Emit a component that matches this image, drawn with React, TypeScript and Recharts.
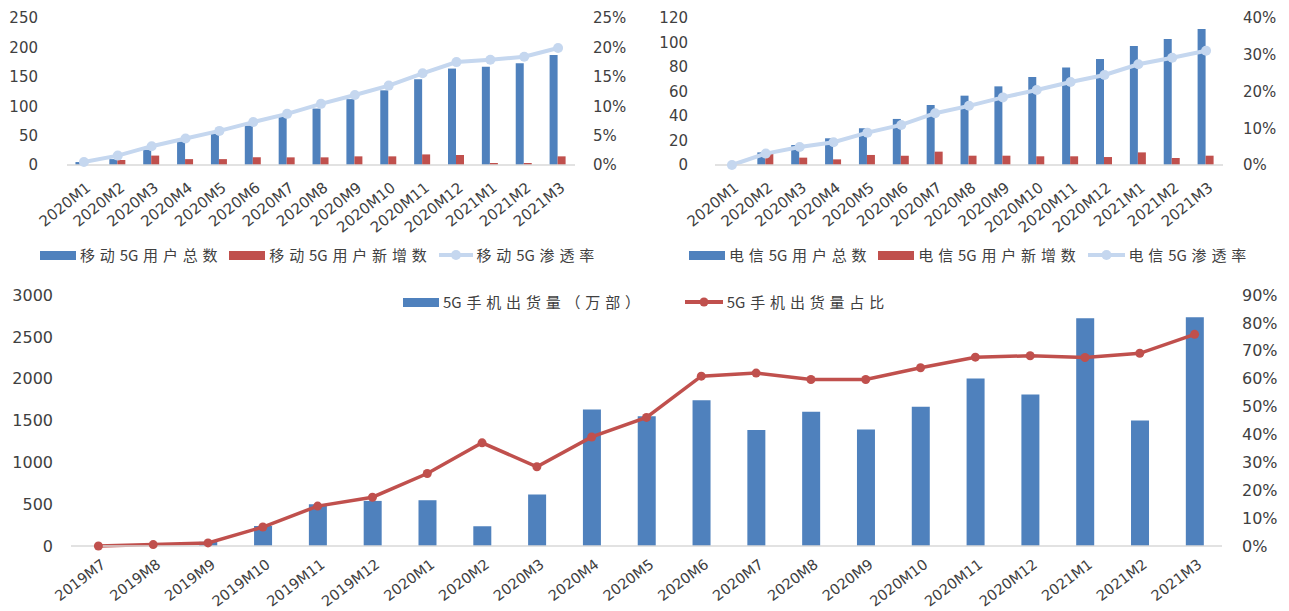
import React from 'react';
import { ComposedChart, Bar, Line, XAxis, YAxis } from 'recharts';

// ---- Top charts: monthly 5G subscribers (2020M1 – 2021M3) ----
const monthsTop = [
  '2020M1', '2020M2', '2020M3', '2020M4', '2020M5', '2020M6', '2020M7', '2020M8',
  '2020M9', '2020M10', '2020M11', '2020M12', '2021M1', '2021M2', '2021M3',
];

// China Mobile
const mobileTotal = [5, 10, 26, 40, 53, 67, 82, 96, 112, 127, 146, 164, 167, 173, 187];
const mobileNew = [null, 8.5, 16, 10, 10, 13, 13, 13, 14.7, 14.7, 18, 17, 3.4, 3.4, 14.7];
const mobileRate = [0.5, 1.6, 3.2, 4.5, 5.8, 7.3, 8.7, 10.4, 11.9, 13.5, 15.6, 17.5, 17.9, 18.4, 19.9];
const mobileLeftTicks = [0, 50, 100, 150, 200, 250];
const mobileRightTicks = [0, 5, 10, 15, 20, 25];
const mobileNames = ['移动5G用户总数', '移动5G用户新增数', '移动5G渗透率'];

// China Telecom
const telecomTotal = [null, 10.3, 16.3, 21.8, 30, 37.6, 49, 56.6, 64.2, 71.8, 79.5, 86.5, 97.1, 102.9, 111];
const telecomNew = [null, 9.5, 6, 4.6, 8.2, 7.6, 10.9, 7.6, 7.6, 7.1, 7.1, 6.5, 10.3, 5.7, 7.6];
const telecomRate = [0, 3.1, 4.9, 6.2, 8.8, 10.9, 14.1, 16.1, 18.4, 20.4, 22.6, 24.5, 27.4, 29.2, 31.1];
const telecomLeftTicks = [0, 20, 40, 60, 80, 100, 120];
const telecomRightTicks = [0, 10, 20, 30, 40];
const telecomNames = ['电信5G用户总数', '电信5G用户新增数', '电信5G渗透率'];

// ---- Bottom chart: 5G handset shipments (2019M7 – 2021M3) ----
const monthsBottom = [
  '2019M7', '2019M8', '2019M9', '2019M10', '2019M11', '2019M12',
  '2020M1', '2020M2', '2020M3', '2020M4', '2020M5', '2020M6', '2020M7', '2020M8',
  '2020M9', '2020M10', '2020M11', '2020M12', '2021M1', '2021M2', '2021M3',
];
const shipments = [0, 20, 50, 240, 499, 539, 547, 236, 615, 1632, 1552, 1743, 1385, 1604, 1393, 1664, 2003, 1812, 2721, 1500, 2733];
const shipmentShare = [0, 0.5, 1.1, 6.8, 14.3, 17.5, 26, 37, 28.4, 39.1, 46.1, 60.9, 62, 59.7, 59.7, 63.9, 67.7, 68.2, 67.6, 69.1, 75.9];
const shipLeftTicks = [0, 500, 1000, 1500, 2000, 2500, 3000];
const shipRightTicks = [0, 10, 20, 30, 40, 50, 60, 70, 80, 90];
const shipNames = ['5G手机出货量（万部）', '5G手机出货量占比'];

const BLUE = '#4f81bd';
const RED = '#c0504d';
const PALE = '#c5d7ef';
const TEXT = '#404040';
const AXIS = '#d9d9d9';
const NUM_FONT = '"DejaVu Sans", sans-serif';
const CJK_FONT = '"Noto Sans CJK SC", sans-serif';

const pct = (v: number) => `${v}%`;

// Category label rotated about its right end, hanging just below the axis.
const SlantTick = (props: any) => {
  const { x, y, payload, rot, shift = 1, size = 15 } = props;
  return (
    <g transform={`translate(${x + shift},${y})`}>
      <text
        transform={`rotate(${rot})`}
        textAnchor="end"
        dy="0.72em"
        fontSize={size}
        fontFamily={NUM_FONT}
        fill={TEXT}
      >
        {payload.value}
      </text>
    </g>
  );
};

// Spaced-out legend caption: Latin runs stay tight, CJK glyphs get tracking.
const SpacedText = ({ text, spacing }: { text: string; spacing: number }) => {
  const chars = Array.from(text);
  const ascii = (c: string) => /[\x20-\x7e]/.test(c);
  return (
    <>
      {chars.map((c, i) => {
        const next = chars[i + 1];
        const tight = ascii(c) && next !== undefined && ascii(next);
        return (
          <span key={i} style={{ marginRight: tight ? 0 : spacing }}>
            {c}
          </span>
        );
      })}
    </>
  );
};

type LegendItem = { name: string; kind: 'bar' | 'line'; color: string; r?: number; w?: number };

const LegendRow = ({ left, top, items, gap }: { left: number; top: number; items: LegendItem[]; gap: number }) => (
  <div
    style={{
      position: 'absolute',
      left,
      top,
      height: 20,
      display: 'flex',
      alignItems: 'center',
      gap,
      whiteSpace: 'nowrap',
    }}
  >
    {items.map((it) => (
      <div key={it.name} style={{ display: 'flex', alignItems: 'center' }}>
        {it.kind === 'bar' ? (
          <div style={{ width: 36, height: 9, background: it.color }} />
        ) : (
          <svg width={it.w ?? 36} height={12} style={{ display: 'block' }}>
            <line x1={0} y1={6} x2={it.w ?? 36} y2={6} stroke={it.color} strokeWidth={4} />
            <circle cx={(it.w ?? 36) / 2} cy={6} r={it.r ?? 5} fill={it.color} />
          </svg>
        )}
        <span
          style={{
            marginLeft: 4,
            fontSize: 15,
            fontFamily: CJK_FONT,
            color: TEXT,
            lineHeight: '20px',
          }}
        >
          <SpacedText text={it.name} spacing={4.8} />
        </span>
      </div>
    ))}
  </div>
);

type SubsProps = {
  left: number;
  width: number;
  leftAxisWidth: number;
  rightAxisWidth: number;
  leftMargin: number;
  rightMargin: number;
  totals: (number | null)[];
  adds: (number | null)[];
  rates: number[];
  leftTicks: number[];
  rightTicks: number[];
  names: string[];
};

const SubscriberChart = (p: SubsProps) => {
  const data = monthsTop.map((m, i) => ({
    month: m,
    total: p.totals[i],
    added: p.adds[i],
    rate: p.rates[i],
  }));
  const lastL = p.leftTicks[p.leftTicks.length - 1];
  const lastR = p.rightTicks[p.rightTicks.length - 1];
  return (
    <div style={{ position: 'absolute', left: p.left, top: 0 }}>
      <ComposedChart
        width={p.width}
        height={240}
        data={data}
        margin={{ top: 18, right: 0, bottom: 0, left: 0 }}
        barCategoryGap="25%"
        barGap={0}
      >
        <XAxis
          dataKey="month"
          interval={0}
          height={75}
          tickLine={false}
          tickSize={0}
          tickMargin={16}
          axisLine={{ stroke: AXIS, strokeWidth: 1.5 }}
          tick={<SlantTick rot={-39} shift={1} />}
        />
        <YAxis
          yAxisId="left"
          orientation="left"
          width={p.leftAxisWidth}
          domain={[0, lastL]}
          ticks={p.leftTicks}
          interval={0}
          axisLine={false}
          tickLine={false}
          tickSize={0}
          tickMargin={p.leftMargin}
          tick={{ fontSize: 15, fill: TEXT, fontFamily: NUM_FONT }}
        />
        <YAxis
          yAxisId="right"
          orientation="right"
          width={p.rightAxisWidth}
          domain={[0, lastR]}
          ticks={p.rightTicks}
          interval={0}
          axisLine={false}
          tickLine={false}
          tickSize={0}
          tickMargin={p.rightMargin}
          tickFormatter={pct}
          tick={{ fontSize: 15, fill: TEXT, fontFamily: NUM_FONT, textAnchor: 'start' }}
        />
        <Bar yAxisId="left" dataKey="total" name={p.names[0]} fill={BLUE} isAnimationActive={false} />
        <Bar yAxisId="left" dataKey="added" name={p.names[1]} fill={RED} isAnimationActive={false} />
        <Line
          yAxisId="right"
          dataKey="rate"
          name={p.names[2]}
          type="linear"
          stroke={PALE}
          strokeWidth={4}
          dot={{ r: 5, fill: PALE, stroke: PALE, strokeWidth: 0 }}
          activeDot={false}
          isAnimationActive={false}
        />
      </ComposedChart>
    </div>
  );
};

const ShipmentChart = () => {
  const data = monthsBottom.map((m, i) => ({ month: m, units: shipments[i], share: shipmentShare[i] }));
  return (
    <div style={{ position: 'absolute', left: 0, top: 270 }}>
      <ComposedChart
        width={1289}
        height={341}
        data={data}
        margin={{ top: 25, right: 0, bottom: 0, left: 0 }}
        barCategoryGap="34%"
      >
        <XAxis
          dataKey="month"
          interval={0}
          height={65}
          tickLine={false}
          tickSize={0}
          tickMargin={12}
          axisLine={{ stroke: AXIS, strokeWidth: 1.5 }}
          tick={<SlantTick rot={-37} shift={2} size={14.5} />}
        />
        <YAxis
          yAxisId="left"
          orientation="left"
          width={71}
          domain={[0, 3000]}
          ticks={shipLeftTicks}
          interval={0}
          axisLine={false}
          tickLine={false}
          tickSize={0}
          tickMargin={18}
          tick={{ fontSize: 16, fill: TEXT, fontFamily: NUM_FONT }}
        />
        <YAxis
          yAxisId="right"
          orientation="right"
          width={67}
          domain={[0, 90]}
          ticks={shipRightTicks}
          interval={0}
          axisLine={false}
          tickLine={false}
          tickSize={0}
          tickMargin={20}
          tickFormatter={pct}
          tick={{ fontSize: 16, fill: TEXT, fontFamily: NUM_FONT, textAnchor: 'start' }}
        />
        <Bar yAxisId="left" dataKey="units" name={shipNames[0]} fill={BLUE} isAnimationActive={false} />
        <Line
          yAxisId="right"
          dataKey="share"
          name={shipNames[1]}
          type="linear"
          stroke={RED}
          strokeWidth={3.5}
          dot={{ r: 4.5, fill: RED, stroke: RED, strokeWidth: 0 }}
          activeDot={false}
          isAnimationActive={false}
        />
      </ComposedChart>
    </div>
  );
};

export default function App() {
  return (
    <div
      style={{
        position: 'absolute',
        left: 0,
        top: 0,
        width: 1289,
        height: 611,
        background: '#ffffff',
        overflow: 'hidden',
        fontFamily: NUM_FONT,
      }}
    >
      <SubscriberChart
        left={0}
        width={645}
        leftAxisWidth={67}
        rightAxisWidth={70}
        leftMargin={29}
        rightMargin={18}
        totals={mobileTotal}
        adds={mobileNew}
        rates={mobileRate}
        leftTicks={mobileLeftTicks}
        rightTicks={mobileRightTicks}
        names={mobileNames}
      />
      <SubscriberChart
        left={645}
        width={644}
        leftAxisWidth={70}
        rightAxisWidth={66}
        leftMargin={27}
        rightMargin={20}
        totals={telecomTotal}
        adds={telecomNew}
        rates={telecomRate}
        leftTicks={telecomLeftTicks}
        rightTicks={telecomRightTicks}
        names={telecomNames}
      />
      <ShipmentChart />
      <LegendRow
        left={40}
        top={245}
        gap={7}
        items={[
          { name: mobileNames[0], kind: 'bar', color: BLUE },
          { name: mobileNames[1], kind: 'bar', color: RED },
          { name: mobileNames[2], kind: 'line', color: PALE, w: 34 },
        ]}
      />
      <LegendRow
        left={689}
        top={245}
        gap={7}
        items={[
          { name: telecomNames[0], kind: 'bar', color: BLUE },
          { name: telecomNames[1], kind: 'bar', color: RED },
          { name: telecomNames[2], kind: 'line', color: PALE, w: 37 },
        ]}
      />
      <LegendRow
        left={403}
        top={292}
        gap={40}
        items={[
          { name: shipNames[0], kind: 'bar', color: BLUE },
          { name: shipNames[1], kind: 'line', color: RED, r: 4.5, w: 38 },
        ]}
      />
    </div>
  );
}
